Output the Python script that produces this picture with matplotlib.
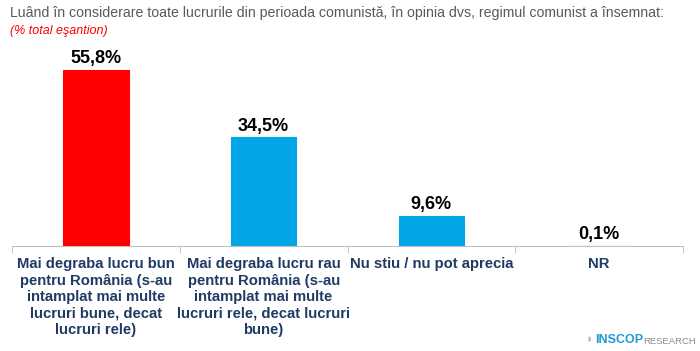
import matplotlib.pyplot as plt
from matplotlib.ticker import FixedLocator

categories = [
    "Mai degraba lucru bun\npentru România (s-au\nintamplat mai multe\nlucruri bune, decat\nlucruri rele)",
    "Mai degraba lucru rau\npentru România (s-au\nintamplat mai multe\nlucruri rele, decat lucruri\nbune)",
    "Nu stiu / nu pot aprecia",
    "NR",
]
values = [55.8, 34.5, 9.6, 0.1]
value_labels = ["55,8%", "34,5%", "9,6%", "0,1%"]
bar_colors = ["#FF0000", "#00A6E6", "#00A6E6", "#00A6E6"]

title = "Luând în considerare toate lucrurile din perioada comunistă, în opinia dvs, regimul comunist a însemnat:"
subtitle = "(% total eşantion)"

plt.rcParams["font.family"] = ["Liberation Sans", "DejaVu Sans"]

fig = plt.figure(figsize=(7, 3.51), dpi=100)
ax = fig.add_axes([12 / 700, 105 / 351, 671 / 700, 206 / 351])

x = list(range(len(values)))
ax.bar(x, values, width=0.39, color=bar_colors, edgecolor=bar_colors, linewidth=0.8, zorder=3)
for xi, v, lab in zip(x, values, value_labels):
    ax.annotate(lab, (xi, v), xytext=(0, 2), textcoords="offset points",
                ha="center", va="bottom", fontsize=13, fontweight="bold", color="black")

ax.set_xlim(-0.5, 3.5)
ax.set_ylim(0, 65.4)
for side in ["top", "right", "left"]:
    ax.spines[side].set_visible(False)
ax.spines["bottom"].set_color("#BFBFBF")
ax.spines["bottom"].set_zorder(1)
ax.set_yticks([])

ax.set_xticks(x)
ax.set_xticklabels(categories, fontsize=10.7, fontweight="bold", color="#1F3B64",
                   linespacing=1.22, va="top")
ax.tick_params(axis="x", which="major", length=0, pad=8)
ax.xaxis.set_minor_locator(FixedLocator([-0.5, 0.5, 1.5, 2.5, 3.5]))
ax.tick_params(axis="x", which="minor", length=5, color="#BFBFBF")

fig.text(10 / 700, 1 - 13 / 351, title, fontsize=10.2, color="#595959", va="center", ha="left")
fig.text(10 / 700, 1 - 31 / 351, subtitle, fontsize=9, color="#FF0000", style="italic",
         va="center", ha="left")

# logo
fig.text(586 / 700, 1 - 340 / 351, "◗", fontsize=9, color="#A9BFD0", va="center", ha="left")
fig.text(595 / 700, 1 - 340 / 351, "INSCOP", fontsize=9, fontweight="bold",
         color="#1F9AD6", va="center", ha="left")
fig.text(643 / 700, 1 - 341 / 351, "RESEARCH", fontsize=6.8, color="#8C8C8C",
         va="center", ha="left")

fig.savefig("out.png", dpi=100)
